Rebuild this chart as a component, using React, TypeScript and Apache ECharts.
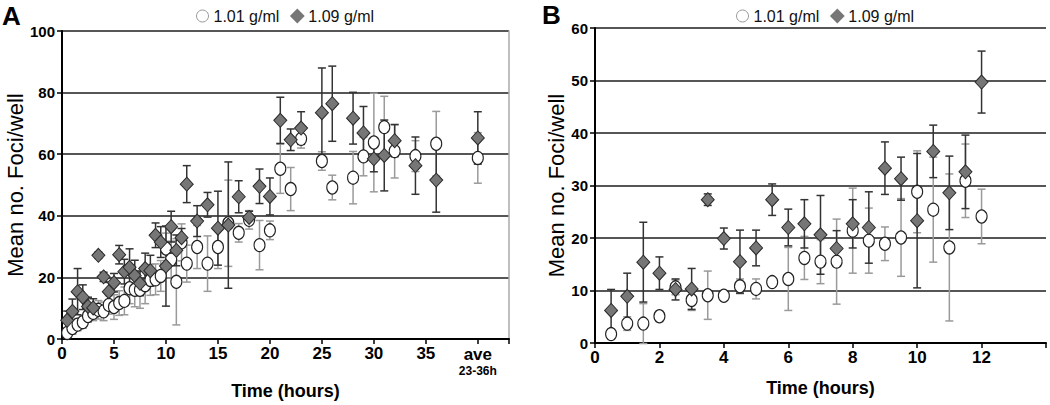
import React, { useEffect, useRef } from 'react';
import * as echarts from 'echarts';

// ---------- Panel A data ----------
const aTimes = [0.5, 1, 1.5, 2, 2.5, 3, 3.5, 4, 4.5, 5, 5.5, 6, 6.5, 7, 7.5, 8, 8.5, 9, 9.5, 10, 10.5, 11, 11.5, 12, 13, 14, 15, 16, 17, 18, 19, 20, 21, 22, 23, 25, 26, 28, 29, 30, 31, 32, 34, 36, 40];
const aLightMean = [2, 3.6, 4.7, 5.5, 7.5, 8.5, 9.5, 9, 11.1, 10.4, 11.7, 12.4, 16.5, 16, 16, 17.5, 19.2, 19.4, 20.5, 29.4, 25.8, 18.6, 31.4, 24.5, 29.9, 24.5, 29.9, 37.6, 34.5, 38.7, 30.5, 35.3, 55.3, 48.7, 65, 57.8, 49.2, 52.4, 59.3, 63.8, 68.8, 61, 59.4, 63.4, 58.8];
const aLightErr = [1.5, 2, 2, 2, 2, 2.5, 3, 3, 3, 4, 4, 4.5, 5, 5.5, 6, 6, 5, 5, 5, 5, 6, 14, 6, 6, 7, 9, 7, 14, 3, 3, 8, 3, 8, 7, 3, 3, 4, 8.5, 6.3, 16, 10, 8.7, 5, 10.5, 8.2];
const aHeavyMean = [6.1, 9, 15.4, 13.6, 10.6, 10.1, 27.2, 20.2, 15.4, 18.3, 27.4, 21.9, 23.3, 20.6, 18.1, 22.9, 22.2, 33.7, 31.5, 23.7, 36.5, 28.8, 32.9, 50.3, 38.3, 43.6, 36, 37, 46.2, 39.5, 49.6, 46.3, 71, 64.7, 68.5, 73.5, 76.4, 71.7, 66.9, 58.5, 59.6, 64.4, 56.3, 51.6, 65.3];
const aHeavyErr = [3, 4, 7.5, 4, 3, 3, 1, 1.5, 3, 3, 3, 4, 6, 5, 4, 5, 5, 4, 5, 13, 5, 5, 3, 6, 5, 4, 12, 20.5, 5.2, 2, 5.6, 6, 7.5, 3.5, 5.3, 14.5, 12.2, 8.4, 8.6, 4.2, 11.5, 5.2, 9.3, 10.4, 8.5];
const aAvePosition = 40;
const aAveLabel = 'ave';
const aAveSubLabel = '23-36h';

// ---------- Panel B data ----------
const bTimes = [0.5, 1, 1.5, 2, 2.5, 3, 3.5, 4, 4.5, 5, 5.5, 6, 6.5, 7, 7.5, 8, 8.5, 9, 9.5, 10, 10.5, 11, 11.5, 12];
const bLightMean = [1.7, 3.7, 3.7, 5.1, 10.6, 8.2, 9.1, 9, 10.8, 10.3, 11.6, 12.2, 16.2, 15.5, 15.5, 21.4, 19.5, 18.9, 20.1, 28.8, 25.4, 18.2, 30.9, 24.1];
const bLightErr = [1, 1.3, 3.8, 1, 1.4, 2, 4.6, 0.8, 1.4, 1.9, 0.7, 6, 4.1, 4.2, 8.1, 8.1, 6.2, 3.2, 7.4, 7.8, 10, 14, 7, 5.2];
const bHeavyMean = [6.2, 8.9, 15.4, 13.3, 10.2, 10.3, 27.3, 19.9, 15.5, 18.1, 27.3, 22, 22.7, 20.6, 18, 22.7, 22, 33.3, 31.3, 23.3, 36.5, 28.6, 32.6, 49.7];
const bHeavyErr = [4, 4.4, 7.6, 3.1, 2, 3.9, 1.1, 2, 6, 3.4, 3, 3.5, 4.6, 7.5, 3.4, 4.6, 6.8, 5, 4.1, 12.8, 5, 7, 7, 5.9];

const LIGHT = '1.01 g/ml';
const HEAVY = '1.09 g/ml';
const FONT = '"Liberation Sans", Arial, Helvetica, sans-serif';

function errRender(color: string) {
  return (params: any, api: any) => {
    const x = api.value(0);
    const lo = api.coord([x, api.value(1)]);
    const hi = api.coord([x, api.value(2)]);
    const w = 4;
    const style = { stroke: color, lineWidth: 1.5, fill: null };
    return {
      type: 'group',
      children: [
        { type: 'line', shape: { x1: lo[0], y1: lo[1], x2: hi[0], y2: hi[1] }, style },
        { type: 'line', shape: { x1: lo[0] - w, y1: lo[1], x2: lo[0] + w, y2: lo[1] }, style },
        { type: 'line', shape: { x1: hi[0] - w, y1: hi[1], x2: hi[0] + w, y2: hi[1] }, style },
      ],
    };
  };
}

function errData(times: number[], mean: number[], err: number[]) {
  return times.map((t, i) => [t, mean[i] - err[i], mean[i] + err[i]]);
}
function ptData(times: number[], mean: number[]) {
  return times.map((t, i) => [t, mean[i]]);
}

function panelSeries(idx: number, times: number[], lm: number[], le: number[], hm: number[], he: number[]) {
  const yi = idx === 0 ? 0 : 2;
  return [
    {
      type: 'custom', xAxisIndex: idx, yAxisIndex: yi, z: 2, clip: false,
      renderItem: errRender('#9a9a9a'), data: errData(times, lm, le), encode: { x: 0, y: [1, 2] },
    },
    {
      type: 'custom', xAxisIndex: idx, yAxisIndex: yi, z: 3, clip: false,
      renderItem: errRender('#333333'), data: errData(times, hm, he), encode: { x: 0, y: [1, 2] },
    },
    {
      type: 'scatter', name: LIGHT, xAxisIndex: idx, yAxisIndex: yi, z: 4,
      symbol: 'circle', symbolSize: [11, 13],
      itemStyle: { color: '#ffffff', borderColor: '#222222', borderWidth: 1.2, opacity: 1 },
      data: ptData(times, lm),
    },
    {
      type: 'scatter', name: HEAVY, xAxisIndex: idx, yAxisIndex: yi, z: 5,
      symbol: 'diamond', symbolSize: [13, 14],
      itemStyle: { color: '#767676', borderColor: '#2a2a2a', borderWidth: 1, opacity: 1 },
      data: ptData(times, hm),
    },
  ];
}

function legendFor(left: number) {
  return {
    left, top: 3, itemWidth: 12, itemHeight: 12, itemGap: 11, selectedMode: false,
    textStyle: { fontSize: 16, color: '#111', fontFamily: FONT },
    data: [
      { name: LIGHT, icon: 'circle', itemStyle: { color: '#fff', borderColor: '#999', borderWidth: 1 } },
      { name: HEAVY, icon: 'diamond', itemStyle: { color: '#777', borderColor: '#777' } },
    ],
  };
}

const axisLineStyle = { color: '#000', width: 2 };
const splitStyle = { color: '#1e1e1e', width: 1.5 };

export default function App() {
  const ref = useRef<HTMLDivElement>(null);
  useEffect(() => {
    if (!ref.current) return;
    const chart = echarts.init(ref.current, undefined, { renderer: 'svg' });
    const yLabel = { fontSize: 15, fontWeight: 'bold', color: '#000', margin: 7, fontFamily: FONT };
    const yName = { fontSize: 22, color: '#000', fontFamily: FONT };
    const xName = { fontSize: 18, fontWeight: 'bold', color: '#000', fontFamily: FONT };
    chart.setOption({
      animation: false,
      backgroundColor: '#fff',
      textStyle: { fontFamily: FONT },
      title: [
        { text: 'A', left: 2, top: 3, padding: 0, textStyle: { fontSize: 26, fontWeight: 'bold', color: '#000', fontFamily: FONT } },
        { text: 'B', left: 542, top: 2, padding: 0, textStyle: { fontSize: 26, fontWeight: 'bold', color: '#000', fontFamily: FONT } },
      ],
      legend: [legendFor(191), legendFor(731)],
      grid: [
        { left: 62, top: 31, width: 447, height: 312 },
        { left: 595, top: 28, width: 451, height: 315 },
      ],
      xAxis: [
        {
          gridIndex: 0, type: 'value', min: 0, max: 43, interval: 5,
          axisLine: { show: true, onZero: false, lineStyle: axisLineStyle },
          axisTick: { show: true, length: 5, lineStyle: { color: '#000', width: 1.5 } },
          splitLine: { show: false },
          axisLabel: {
            margin: 6, fontSize: 17, fontWeight: 'bold', color: '#000', fontFamily: FONT,
            formatter: (v: number) => (v === aAvePosition ? `{a|${aAveLabel}}\n{b|${aAveSubLabel}}` : v % 5 === 0 && v < aAvePosition ? String(v) : ''),
            rich: {
              a: { fontSize: 17, fontWeight: 'bold', color: '#000', fontFamily: FONT, lineHeight: 19 },
              b: { fontSize: 12, fontWeight: 'bold', color: '#000', fontFamily: FONT, lineHeight: 14 },
            },
          },
          name: 'Time (hours)', nameLocation: 'middle', nameGap: 36, nameTextStyle: xName,
        },
        {
          gridIndex: 1, type: 'value', min: 0, max: 14, interval: 2,
          axisLine: { show: true, onZero: false, lineStyle: axisLineStyle },
          axisTick: { show: true, length: 5, lineStyle: { color: '#000', width: 1.5 } },
          splitLine: { show: false },
          axisLabel: {
            margin: 6, fontSize: 17, fontWeight: 'bold', color: '#000', fontFamily: FONT,
            formatter: (v: number) => (v <= 12 ? String(v) : ''),
          },
          name: 'Time (hours)', nameLocation: 'middle', nameGap: 36, nameTextStyle: xName,
        },
      ],
      yAxis: [
        {
          gridIndex: 0, type: 'value', min: 0, max: 100, interval: 20,
          axisLine: { show: true, lineStyle: axisLineStyle },
          axisTick: { show: true, length: 5, lineStyle: { color: '#000', width: 1.5 } },
          splitLine: { show: true, lineStyle: splitStyle },
          axisLabel: yLabel,
          name: 'Mean no. Foci/well', nameLocation: 'middle', nameGap: 33, nameRotate: 90, nameTextStyle: yName,
        },
        {
          gridIndex: 0, type: 'value', position: 'right', min: 0, max: 100,
          axisLine: { show: true, lineStyle: { color: '#aaaaaa', width: 1.5 } },
          axisTick: { show: false }, axisLabel: { show: false }, splitLine: { show: false },
        },
        {
          gridIndex: 1, type: 'value', min: 0, max: 60, interval: 10,
          axisLine: { show: true, lineStyle: axisLineStyle },
          axisTick: { show: true, length: 5, lineStyle: { color: '#000', width: 1.5 } },
          splitLine: { show: true, lineStyle: splitStyle },
          axisLabel: yLabel,
          name: 'Mean no. Foci/well', nameLocation: 'middle', nameGap: 27, nameRotate: 90, nameTextStyle: yName,
        },
      ],
      series: [
        ...panelSeries(0, aTimes, aLightMean, aLightErr, aHeavyMean, aHeavyErr),
        ...panelSeries(1, bTimes, bLightMean, bLightErr, bHeavyMean, bHeavyErr),
      ],
    });
    return () => chart.dispose();
  }, []);
  return <div ref={ref} style={{ position: 'absolute', left: 0, top: 0, width: 1050, height: 405 }} />;
}
